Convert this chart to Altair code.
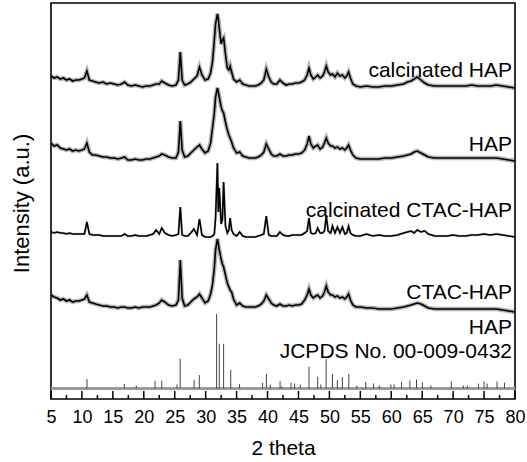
import altair as alt
import pandas as pd

# 2-theta grid shared by the four measured patterns
two_theta = [5,5.5,6,6.5,7,7.5,8,8.5,9,9.5,
             10,10.4,10.8,11.2,11.7,12.2,12.8,13.4,14,14.6,
             15.2,15.8,16.4,16.9,17.4,18,18.6,19.2,19.8,20.4,
             21,21.5,22,22.5,22.9,23.4,24,24.6,25.2,25.6,
             25.9,26.2,26.6,27.1,27.6,28.1,28.6,29.0,29.4,29.9,
             30.4,30.8,31.1,31.4,31.6,31.9,32.05,32.2,32.5,32.7,32.9,
             33.2,33.5,33.75,33.95,34.2,34.5,35,35.5,36,36.5,
             37,37.5,38,38.5,39,39.4,39.8,40.2,40.6,41,
             41.5,42,42.5,43,43.5,44,44.5,45,45.5,46,
             46.4,46.7,47,47.4,47.8,48.1,48.5,48.9,49.2,49.5,
             49.8,50.2,50.5,50.9,51.3,51.7,52.1,52.5,52.8,53.1,
             53.4,53.8,54.3,55,56,57,58,59,60,61,
             62,62.6,63.2,63.7,64.2,64.8,65.4,66,67,68,
             69,70,71,72,73,74,75,76,77,78,79,80]

# intensities (a.u., stacked with offsets as in the figure)
calc_hap = [323,321,322,320,321,319,320,318,319,319,
            320,321,328,319,318,317,316,317,315,316,
            315,314,315,317,314,313,314,313,312,313,
            313,314,315,315,318,316,314,313,314,319,
            347,319,314,315,317,320,323,332,324,319,
            320,326,337,359,375,385,380,371,355,359,361,
            345,331,329,333,327,320,317,319,315,314,
            313,313,313,314,316,319,330,322,317,315,
            315,319,316,314,315,315,316,316,317,319,
            324,331,324,320,322,324,321,323,327,333,
            327,324,325,322,326,323,324,321,323,327,
            321,315,313,312,313,312,312,313,313,314,
            315,317,318,320,322,319,316,314,313,313,
            313,313,313,313,314,313,313,313,314,313,312,311]

hap = [256,253,254,251,250,249,250,248,249,248,
       249,250,256,247,244,244,243,242,242,241,
       241,240,241,242,239,239,240,239,239,240,
       240,241,242,243,245,244,242,241,241,247,
       278,249,242,243,246,249,252,254,250,246,
       248,256,271,286,302,311,307,302,292,288,286,
       277,269,264,261,257,251,246,247,243,242,
       241,241,241,242,244,247,255,250,245,243,
       243,245,243,243,244,244,245,245,246,249,
       255,263,255,251,253,254,250,252,256,261,
       256,253,253,251,252,250,251,249,251,254,
       249,244,241,240,240,240,240,241,241,242,
       243,244,245,247,248,246,244,242,241,241,
       241,241,241,241,241,241,241,241,241,240,239,238]

calc_ctac_hap = [167,166,167,166,166,165,166,165,165,165,
                 165,165,177,165,164,164,164,163,163,163,
                 163,163,163,165,163,163,164,163,163,163,
                 164,165,169,165,171,166,164,163,164,165,
                 192,164,163,163,166,170,164,180,164,162,
                 162,162,163,165,181,236,187,211,175,179,217,
                 173,166,169,181,169,165,163,167,163,162,
                 162,162,162,163,164,165,183,164,163,163,
                 163,167,164,163,163,164,164,164,164,166,
                 168,181,166,165,166,171,166,166,168,183,
                 168,166,173,166,172,166,172,165,166,173,
                 166,164,163,163,165,163,164,163,163,164,
                 166,167,168,166,169,167,168,165,163,163,
                 163,164,163,163,164,164,165,164,165,164,163,162]

ctac_hap = [104,102,101,99,100,98,99,97,98,98,
            99,100,104,97,96,95,94,93,93,92,
            92,91,92,92,91,91,92,91,92,92,
            92,93,94,96,99,97,94,93,94,99,
            139,101,93,94,97,100,102,105,101,96,
            98,105,114,131,149,160,155,149,140,135,132,
            124,116,112,109,107,100,94,96,93,92,
            92,92,92,93,95,98,104,100,96,94,
            93,95,93,93,94,93,94,94,95,99,
            104,110,104,101,103,104,101,103,107,113,
            107,104,104,102,103,101,102,100,102,105,
            99,94,92,92,91,91,90,90,90,91,
            92,93,94,95,96,95,93,91,90,90,
            90,90,90,90,90,90,90,90,90,89,88,87]

# JCPDS 09-0432 reference lines
ref_pos = [10.82,16.84,18.78,21.82,22.90,25.35,25.88,28.13,28.97,31.77,
           32.20,32.90,34.05,35.48,39.20,39.82,40.45,42.03,42.32,43.80,
           44.37,45.30,46.71,48.10,48.62,49.47,50.49,51.28,52.10,53.14,
           54.44,55.88,57.13,58.07,59.94,60.46,61.66,63.01,64.08,65.03,
           66.40,69.70,71.65,72.30,74.10,75.00,75.50,77.10,78.30]
ref_int = [9.4,4.7,3,7.7,7.7,4,29.7,8.7,13.4,74.4,
           44.7,44.7,18.7,4.4,5.5,14.7,4,7.7,2,5.7,
           5,4,22,11.7,4,29.4,14.7,8.7,11.4,14.7,
           3,6.6,5,3,4,4,6.6,8,9,6,
           3,7,3,3,5,7,5,7,6]
ref_base = 10.5

label_text = ["calcinated HAP", "HAP", "calcinated CTAC-HAP", "CTAC-HAP", "HAP", "JCPDS No. 00-009-0432"]
label_y = [322, 248, 182, 100, 65, 41]

major_ticks = [5,10,15,20,25,30,35,40,45,50,55,60,65,70,75,80]
minor_ticks = [7.5,12.5,17.5,22.5,27.5,32.5,37.5,42.5,47.5,52.5,57.5,62.5,67.5,72.5,77.5]

FONT = "Liberation Sans"

rows = []
for name, yv_list in [("calcinated HAP", calc_hap), ("HAP", hap),
                      ("calcinated CTAC-HAP", calc_ctac_hap), ("CTAC-HAP", ctac_hap)]:
    for xv, yv in zip(two_theta, yv_list):
        rows.append({"x": xv, "y": yv, "s": name})
curves = pd.DataFrame(rows)
sticks = pd.DataFrame({"x": ref_pos, "y0": [ref_base] * len(ref_pos),
                       "y1": [ref_base + h for h in ref_int]})
labels = pd.DataFrame({"t": label_text, "y": label_y, "x": [80] * len(label_text)})
majors = pd.DataFrame({"x": major_ticks})
minors = pd.DataFrame({"x": minor_ticks})

xs = alt.Scale(domain=[5, 80], nice=False, zero=False)
ys = alt.Scale(domain=[0, 396], nice=False, zero=False)

xaxis = alt.Axis(values=major_ticks, ticks=False, domain=False, grid=False,
                 labelFont=FONT, labelFontSize=18, labelColor="black", labelPadding=9,
                 labelOverlap=False, labelFlush=False, labelBound=False,
                 title="2 theta", titleFont=FONT, titleFontSize=21, titleFontWeight="normal",
                 titleColor="black", titleY=49, titleBaseline="middle", format="d")
yaxis = alt.Axis(labels=False, ticks=False, domain=False, grid=False,
                 title="Intensity (a.u.)", titleFont=FONT, titleFontSize=22,
                 titleFontWeight="normal", titleColor="black", titleX=-30, titleY=200,
                 titleBaseline="middle", titleAngle=270)


def X(field):
    return alt.X(field, scale=xs, axis=xaxis, title="2 theta")


def Y(field):
    return alt.Y(field, scale=ys, axis=yaxis, title="Intensity (a.u.)")


halo = alt.Chart(curves[curves.s != "calcinated CTAC-HAP"]).mark_line(
    color="#444", strokeWidth=4.4, opacity=0.4).encode(
    x=X("x:Q"), y=Y("y:Q"), detail="s:N", order="x:Q")

thin_halo = alt.Chart(curves[curves.s == "calcinated CTAC-HAP"]).mark_line(
    color="#444", strokeWidth=2.4, opacity=0.3).encode(
    x=X("x:Q"), y=Y("y:Q"), detail="s:N", order="x:Q")

lines = alt.Chart(curves).mark_line(color="black", strokeWidth=1.6).encode(
    x=X("x:Q"), y=Y("y:Q"), detail="s:N", order="x:Q")

baseline = alt.Chart(majors).mark_rule(color="#9a9a9a", strokeWidth=1.6).encode(
    x=alt.value(0), x2=alt.value(464), y=alt.value(396 - ref_base))

stick_rules = alt.Chart(sticks).mark_rule(color="#444", strokeWidth=1).encode(
    x=X("x:Q"), y=Y("y0:Q"), y2="y1:Q")

major_rules = alt.Chart(majors).mark_rule(color="black", strokeWidth=1.5).encode(
    x=X("x:Q"), y=alt.value(396), y2=alt.value(388))
minor_rules = alt.Chart(minors).mark_rule(color="black", strokeWidth=1.5).encode(
    x=X("x:Q"), y=alt.value(396), y2=alt.value(392))

texts = alt.Chart(labels).mark_text(align="right", baseline="alphabetic", dx=-3,
                                    font=FONT, fontSize=21, color="black").encode(
    x=X("x:Q"), y=Y("y:Q"), text="t:N")

chart = alt.layer(halo, thin_halo, lines, baseline, stick_rules, major_rules, minor_rules, texts).properties(
    width=464, height=396, autosize="none",
    padding={"left": 51, "top": 3, "right": 12, "bottom": 63},
    background="white"
).configure_view(stroke="black", strokeWidth=1.6).configure_axisX(labelOverlap=False)

chart.save("out.html", embed_options={"renderer": "svg", "actions": False})
